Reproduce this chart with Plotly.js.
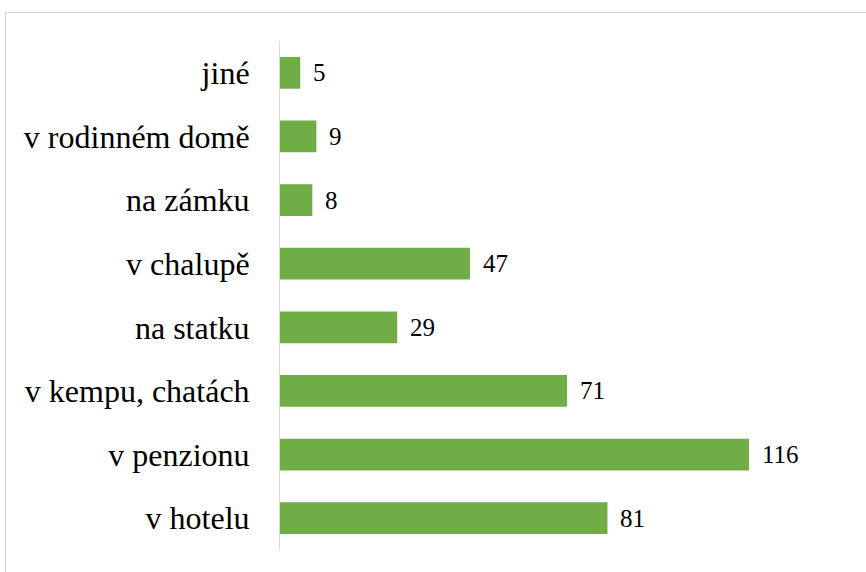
<!DOCTYPE html>
<html>
<head>
<meta charset="utf-8">
<script src="https://cdn.plot.ly/plotly-3.0.1.min.js"></script>
<style>
html,body{margin:0;padding:0;background:#fff;}
#wrap{position:relative;width:866px;height:572px;overflow:hidden;}
#chart{width:866px;height:572px;}
#frame{position:absolute;left:5px;top:12px;width:900px;height:600px;border-left:1px solid #d9d9d9;border-top:1px solid #d9d9d9;pointer-events:none;}
</style>
</head>
<body>
<div id="wrap">
<div id="chart"></div>
<div id="frame"></div>
</div>
<script>
var categories = ["v hotelu", "v penzionu", "v kempu, chatách", "na statku", "v chalupě", "na zámku", "v rodinném domě", "jiné"];
var values = [81, 116, 71, 29, 47, 8, 9, 5];
var barColor = "#70AD47";
var serifFamily = "Liberation Serif, serif";

var trace = {type: "bar", orientation: "h", y: categories, x: values, marker: {color: barColor}};

var annotations = categories.map(function (c, i) {
  return {
    x: values[i], y: c,
    text: String(values[i]), showarrow: false,
    xanchor: "left", xshift: 11,
    font: {family: serifFamily, size: 25, color: "#000"}
  };
});

var layout = {
  width: 866, height: 572,
  margin: {l: 280, r: 20, t: 41, b: 22, pad: 0},
  bargap: 0.5,
  xaxis: {range: [0, 140], visible: false},
  yaxis: {
    type: "category", showline: true, linecolor: "#d9d9d9", ticks: "", showgrid: false,
    tickfont: {family: serifFamily, size: 32, color: "#000"},
    ticklabelstandoff: 23, automargin: false
  },
  annotations: annotations
};

Plotly.newPlot("chart", [trace], layout, {staticPlot: true});
</script>
</body>
</html>
